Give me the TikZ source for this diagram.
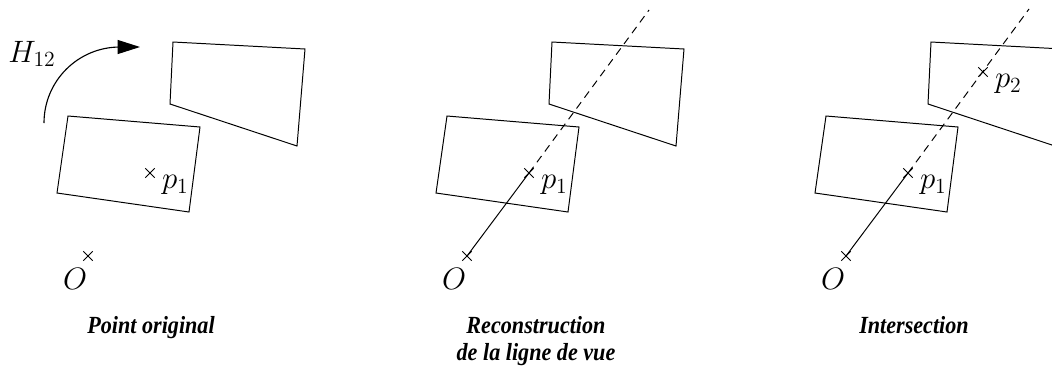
\RequirePackage{fix-cm}
\documentclass[tikz,border=0pt]{standalone}
\usepackage{fontspec}
\usetikzlibrary{positioning, arrows.meta, shapes.misc}
\newfontfamily\captionfont[FakeStretch=0.9]{Liberation Serif}

\tikzset{
  ptcross/.style={cross out, draw, line width=0.7pt, inner sep=0pt, minimum size=6pt},
  ptlabel/.style={inner sep=0pt, font=\fontsize{22}{26}\selectfont},
  edgeline/.style={line width=0.7pt, line join=miter},
  sightline/.style={line width=0.7pt},
  sightdash/.style={line width=0.7pt, dash pattern=on 5.5pt off 4pt},
  captext/.style={inner sep=0pt, align=center,
    font=\captionfont\bfseries\itshape\fontsize{17.5}{19}\selectfont},
}

\begin{document}
\begin{tikzpicture}[x=0.025cm, y=-0.025cm]
  \useasboundingbox (0,0) rectangle (1052,371);
  \clip (0,0) rectangle (1052,371);

  % --- Point original
  \draw[edgeline] (68,116) -- (200,127) -- (189,212) -- (57,193) -- cycle;
  \draw[edgeline] (173,42) -- (305,49) -- (297,146) -- (170,104) -- cycle;
  \node[ptcross] (pa1) at (150,173) {};
  \node[ptcross] (Oa) at (88,256) {};
  \node[ptlabel, below right=-2pt and 5pt of pa1] (pa1lbl) {$p_1$};
  \node[ptlabel, below left=5pt and -3pt of Oa] (Oalbl) {$O$};
  \coordinate (arcstart) at (44,123);
  \coordinate (arcend) at (140,47);
  \draw[sightline, line width=0.8pt, -{Triangle[length=16pt, width=10pt]}]
    (arcstart) .. controls (44,81) and (78,47) .. (120,47) -- (arcend);
  \node[ptlabel] (H) at (32,54) {$H_{12}$};
  \node[captext, anchor=base] (cap1) at (151,333) {Point original};

  % --- Reconstruction de la ligne de vue
  \begin{scope}[shift={(379,0)}]
    \draw[edgeline] (68,116) -- (200,127) -- (189,212) -- (57,193) -- cycle;
    \draw[edgeline] (173,42) -- (305,49) -- (297,146) -- (170,104) -- cycle;
    \node[ptcross] (pb1) at (150,173) {};
    \node[ptcross] (Ob) at (88,256) {};
    \coordinate (farb) at (270,10);
    \draw[sightline] (Ob.center) -- (pb1.center);
    \draw[sightdash] (pb1.center) -- (farb);
    \node[ptlabel, below right=-2pt and 5pt of pb1] (pb1lbl) {$p_1$};
    \node[ptlabel, below left=5pt and -3pt of Ob] (Oblbl) {$O$};
  \end{scope}
  \node[captext, anchor=base] (cap2) at (536,360) {Reconstruction\\de la ligne de vue};

  % --- Intersection
  \begin{scope}[shift={(758,0)}]
    \draw[edgeline] (68,116) -- (200,127) -- (189,212) -- (57,193) -- cycle;
    \draw[edgeline] (173,42) -- (305,49) -- (297,146) -- (170,104) -- cycle;
    \node[ptcross] (pc1) at (150,173) {};
    \node[ptcross] (pc2) at (225,72) {};
    \node[ptcross] (Oc) at (88,256) {};
    \coordinate (farc) at (271,9);
    \draw[sightline] (Oc.center) -- (pc1.center);
    \draw[sightdash] (pc1.center) -- (farc);
    \node[ptlabel, below right=-2pt and 5pt of pc1] (pc1lbl) {$p_1$};
    \node[ptlabel, below right=-2pt and 5pt of pc2] (pc2lbl) {$p_2$};
    \node[ptlabel, below left=5pt and -3pt of Oc] (Oclbl) {$O$};
  \end{scope}
  \node[captext, anchor=base] (cap3) at (914,333) {Intersection};
\end{tikzpicture}
\end{document}
